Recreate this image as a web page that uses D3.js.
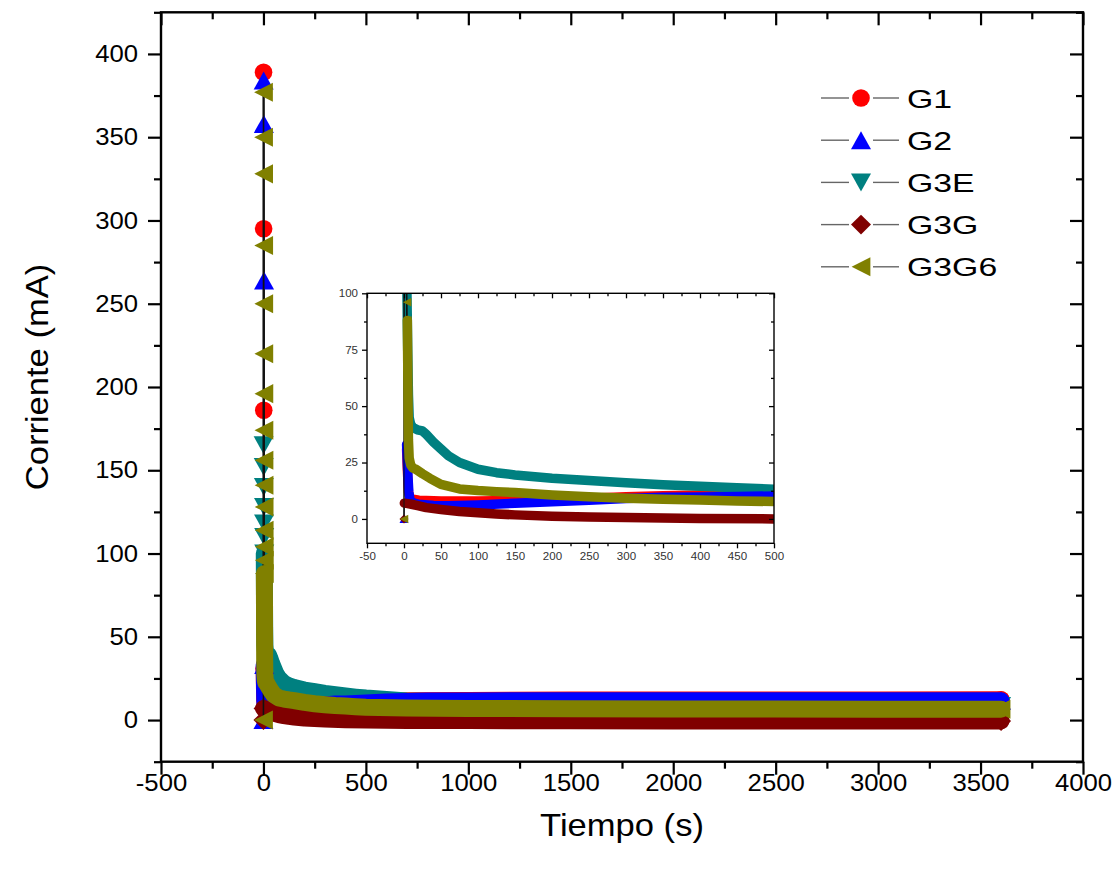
<!DOCTYPE html>
<html><head><meta charset="utf-8">
<script src="https://cdn.jsdelivr.net/npm/d3@7"></script>
<style>body{margin:0;background:#fff}svg{display:block}</style>
</head><body>
<svg id="c" width="1120" height="871"></svg>
<script>
// ---------------- DATA ----------------
const seriesNames = ["G1", "G2", "G3E", "G3G", "G3G6"];

// sparse initial spike points (time s, current mA)
const g1SpikeT = [0.5, 1, 1.5];
const g1SpikeV = [389, 295, 186];
const g2SpikeT = [0, 1, 2, 3];
const g2SpikeV = [0, 384, 358, 264];
const g3eSpikeT = [1, 1.5, 2, 2.5, 3, 3.5];
const g3eSpikeV = [165, 152, 140, 128, 118, 110];
const g3gSpikeT = [0];
const g3gSpikeV = [0];
const g3g6SpikeT = [0, 0.3, 0.6, 0.9, 1.2, 1.5, 1.8, 2.1, 2.4, 2.7, 3.0, 3.3, 3.6, 3.9, 4.2];
const g3g6SpikeV = [0, 377, 350, 328, 285, 250, 220, 196, 174, 156, 141, 128, 114, 104, 96];

// dense decay run (time s, current mA)
const g1DecayT = [3.5, 4.5, 6, 8, 12, 20, 50, 100, 150, 200, 250, 300, 350, 400, 450, 500, 700, 1000, 1500, 2000, 2500, 3000, 3600];
const g1DecayV = [31, 22, 12, 9.5, 8.8, 8.3, 8, 8, 8.2, 8.6, 9.2, 9.8, 10.3, 10.6, 10.8, 11.2, 11.6, 11.8, 12, 12, 12.1, 12.1, 12.2];
const g2DecayT = [3.5, 4.5, 5.5, 6.5, 8, 12, 20, 40, 60, 100, 150, 200, 250, 300, 350, 400, 450, 500, 600, 800, 1000, 1500, 2000, 2500, 3000, 3600];
const g2DecayV = [33, 25, 18, 12, 8.5, 7.2, 6.5, 6, 5.8, 6.2, 7.0, 7.6, 8.3, 9.1, 9.6, 9.7, 9.9, 10.2, 10.9, 11.4, 11.5, 11.6, 11.6, 11.6, 11.6, 11.6];
const g3eDecayT = [4, 5, 6, 7, 9, 12, 18, 25, 30, 40, 50, 60, 75, 100, 125, 150, 200, 250, 300, 350, 400, 450, 500, 600, 700, 1000, 1500, 2000, 2500, 3000, 3600];
const g3eDecayV = [100, 75, 55, 45, 42, 40.5, 39.5, 39, 37.5, 34, 31, 28, 25, 22, 20.5, 19.5, 18, 17, 16, 15.2, 14.5, 13.8, 13.2, 12.3, 11.5, 10.5, 9.5, 9, 8.8, 8.6, 8.5];
const g3gDecayT = [0.5, 5, 10, 20, 30, 50, 75, 100, 125, 150, 200, 250, 300, 400, 500, 700, 1000, 1500, 2000, 2500, 3000, 3600];
const g3gDecayV = [7, 6.8, 6.5, 5.8, 5.0, 4.2, 3.3, 2.7, 2.2, 1.8, 1.2, 0.9, 0.6, 0.2, 0, -0.2, -0.3, -0.4, -0.5, -0.5, -0.6, -0.6];
const g3g6DecayT = [4.5, 5, 5.5, 6, 7, 9, 12, 16, 25, 35, 50, 75, 100, 125, 150, 200, 250, 300, 350, 400, 450, 500, 700, 1000, 1500, 2000, 2500, 3000, 3600];
const g3g6DecayV = [88, 70, 50, 35, 27, 24, 22.5, 22, 20, 18, 15.3, 13.3, 12.6, 12.1, 11.7, 10.6, 9.8, 9.2, 8.7, 8.4, 8.0, 7.7, 7.3, 7.0, 6.8, 6.7, 6.6, 6.5, 6.5];

// axis ticks
const xTicksMain = [-500, 0, 500, 1000, 1500, 2000, 2500, 3000, 3500, 4000];
const yTicksMain = [0, 50, 100, 150, 200, 250, 300, 350, 400];
const xTicksInset = [-50, 0, 50, 100, 150, 200, 250, 300, 350, 400, 450, 500];
const yTicksInset = [0, 25, 50, 75, 100];
const xTitle = "Tiempo (s)";
const yTitle = "Corriente (mA)";

// ---------------- STYLE ----------------
const colors = {G1: "#ff0000", G2: "#0000ff", G3E: "#008080", G3G: "#800000", G3G6: "#808000"};
const shapes = {G1: "circle", G2: "up", G3E: "down", G3G: "diamond", G3G6: "left"};
const drawOrder = ["G1", "G3E", "G2", "G3G", "G3G6"];
const FONT = "'Liberation Sans', Arial, sans-serif";

const data = {
  G1: {st: g1SpikeT, sv: g1SpikeV, dt: g1DecayT, dv: g1DecayV},
  G2: {st: g2SpikeT, sv: g2SpikeV, dt: g2DecayT, dv: g2DecayV},
  G3E: {st: g3eSpikeT, sv: g3eSpikeV, dt: g3eDecayT, dv: g3eDecayV},
  G3G: {st: g3gSpikeT, sv: g3gSpikeV, dt: g3gDecayT, dv: g3gDecayV},
  G3G6: {st: g3g6SpikeT, sv: g3g6SpikeV, dt: g3g6DecayT, dv: g3g6DecayV}
};

function shapePath(shape, s) {
  const w = 20 * s, h = 18 * s, r = 8.8 * s;
  switch (shape) {
    case "circle": return `M${r},0A${r},${r} 0 1,1 ${-r},0A${r},${r} 0 1,1 ${r},0Z`;
    case "up": return `M0,${-h/2}L${w/2},${h/2}L${-w/2},${h/2}Z`;
    case "down": return `M0,${h/2}L${w/2},${-h/2}L${-w/2},${-h/2}Z`;
    case "diamond": return `M0,${-h*0.55}L${w/2},0L0,${h*0.55}L${-w/2},0Z`;
    case "left": return `M${-w*0.47},0L${w*0.47},${-h*0.53}L${w*0.47},${h*0.53}Z`;
  }
}

function stretchText(sel, k) {
  sel.each(function () {
    const len = this.getComputedTextLength();
    if (len > 0) {
      this.setAttribute("textLength", len * k);
      this.setAttribute("lengthAdjust", "spacingAndGlyphs");
    }
  });
}

const svg = d3.select("#c");
svg.append("rect").attr("width", 1120).attr("height", 871).attr("fill", "#fff");

function minorTicks(domain, step) {
  return d3.range(Math.ceil(domain[0] / step) * step, domain[1] + 1e-9, step);
}

function drawPanel(g, cfg) {
  const x = d3.scaleLinear().domain(cfg.xDom).range([cfg.left, cfg.right]);
  const y = d3.scaleLinear().domain(cfg.yDom).range([cfg.bottom, cfg.top]);
  const clipId = "clip" + cfg.id;
  g.append("clipPath").attr("id", clipId).append("rect")
    .attr("x", cfg.left).attr("y", cfg.top)
    .attr("width", cfg.right - cfg.left).attr("height", cfg.bottom - cfg.top);
  if (cfg.bg) g.append("rect").attr("x", cfg.left).attr("y", cfg.top)
    .attr("width", cfg.right - cfg.left).attr("height", cfg.bottom - cfg.top).attr("fill", "#fff");

  const plot = g.append("g").attr("clip-path", `url(#${clipId})`);
  const line = d3.line().x(d => x(d[0])).y(d => y(d[1]));
  drawOrder.forEach(name => {
    const d = data[name];
    const spike = d.st.map((t, i) => [t, d.sv[i]]);
    const dense = d.dt.map((t, i) => [t, d.dv[i]]);
    const all = spike.concat(dense);
    plot.append("path").attr("d", line(all)).attr("fill", "none")
      .attr("stroke", "#111").attr("stroke-width", cfg.lineW);
    plot.append("path").attr("d", line(dense)).attr("fill", "none")
      .attr("stroke", colors[name]).attr("stroke-width", cfg.bandW)
      .attr("stroke-linejoin", "round").attr("stroke-linecap", "round");
    const marked = spike.concat([dense[0], dense[dense.length - 1]]);
    plot.selectAll(null).data(marked).join("path")
      .attr("transform", p => `translate(${x(p[0])},${y(p[1])})`)
      .attr("d", shapePath(shapes[name], cfg.mark))
      .attr("fill", colors[name]);
  });

  const fmt = d => String(d);
  const xMin = minorTicks(cfg.xDom, cfg.xMinor).filter(v => !cfg.xTicks.includes(v));
  const yMin = minorTicks(cfg.yDom, cfg.yMinor).filter(v => !cfg.yTicks.includes(v));
  const axes = [
    [d3.axisBottom, x, cfg.xTicks, cfg.maj, true, `translate(0,${cfg.bottom})`, cfg.xPad],
    [d3.axisBottom, x, xMin, cfg.min, false, `translate(0,${cfg.bottom})`, 0],
    [d3.axisTop, x, cfg.xTicks, -cfg.maj, false, `translate(0,${cfg.top})`, 0],
    [d3.axisTop, x, xMin, -cfg.min, false, `translate(0,${cfg.top})`, 0],
    [d3.axisLeft, y, cfg.yTicks, cfg.maj, true, `translate(${cfg.left},0)`, cfg.yPad],
    [d3.axisLeft, y, yMin, cfg.min, false, `translate(${cfg.left},0)`, 0],
    [d3.axisRight, y, cfg.yTicks, -cfg.maj, false, `translate(${cfg.right},0)`, 0],
    [d3.axisRight, y, yMin, -cfg.min, false, `translate(${cfg.right},0)`, 0]
  ];
  axes.forEach(([ax, sc, vals, size, lab, tr, pad]) => {
    const a = ax(sc).tickValues(vals).tickSize(size).tickPadding(pad)
      .tickFormat(lab ? fmt : () => "");
    const ag = g.append("g").attr("transform", tr).call(a);
    ag.select(".domain").remove();
    ag.selectAll("line").attr("stroke", "#000").attr("stroke-width", cfg.tickW);
    ag.selectAll("text").attr("font-family", FONT).attr("font-size", cfg.fs)
      .attr("fill", cfg.labelColor);
    if (lab) stretchText(ag.selectAll("text"), cfg.stretch);
  });
  g.append("rect").attr("x", cfg.left).attr("y", cfg.top)
    .attr("width", cfg.right - cfg.left).attr("height", cfg.bottom - cfg.top)
    .attr("fill", "none").attr("stroke", "#000").attr("stroke-width", cfg.frameW);
  return {x, y};
}

// main panel
drawPanel(svg.append("g"), {
  id: "main", xDom: [-500, 4000], yDom: [-25, 425],
  left: 161, right: 1083, top: 12.3, bottom: 761.7,
  xTicks: xTicksMain, yTicks: yTicksMain, xMinor: 250, yMinor: 25,
  maj: 13, min: 7, xPad: -1, yPad: 10, tickW: 2.2, frameW: 2.4, fs: 24, stretch: 1.07,
  labelColor: "#000", mark: 1, bandW: 17, lineW: 1.6
});

// inset panel
drawPanel(svg.append("g"), {
  id: "inset", xDom: [-50, 500], yDom: [-10.8, 100], bg: true,
  left: 367, right: 774, top: 293.3, bottom: 543.3,
  xTicks: xTicksInset, yTicks: yTicksInset, xMinor: 25, yMinor: 12.5,
  maj: 5, min: 3, xPad: 4, yPad: 4, tickW: 1.3, frameW: 1.4, fs: 10.5, stretch: 1.1,
  labelColor: "#333", mark: 0.45, bandW: 9.5, lineW: 1
});

// axis titles
const xt = svg.append("text").attr("x", 622).attr("y", 836).attr("text-anchor", "middle")
  .attr("font-family", FONT).attr("font-size", 32).text(xTitle);
stretchText(xt, 1.08);
const yt = svg.append("text").attr("transform", "translate(48,377) rotate(-90)")
  .attr("text-anchor", "middle").attr("font-family", FONT).attr("font-size", 32).text(yTitle);
stretchText(yt, 1.08);

// legend
const leg = svg.append("g");
seriesNames.forEach((name, i) => {
  const cy = 98 + i * 42.2;
  const row = leg.append("g").attr("transform", `translate(0,${cy})`);
  row.append("line").attr("x1", 821).attr("x2", 849).attr("stroke", "#666").attr("stroke-width", 1.4);
  row.append("line").attr("x1", 873).attr("x2", 899).attr("stroke", "#666").attr("stroke-width", 1.4);
  row.append("path").attr("transform", "translate(861,0)").attr("d", shapePath(shapes[name], 1))
    .attr("fill", colors[name]);
  const t = row.append("text").attr("x", 907).attr("y", 9.5).attr("font-family", FONT)
    .attr("font-size", 26).text(name);
  stretchText(t, 1.3);
});
</script>
</body></html>
